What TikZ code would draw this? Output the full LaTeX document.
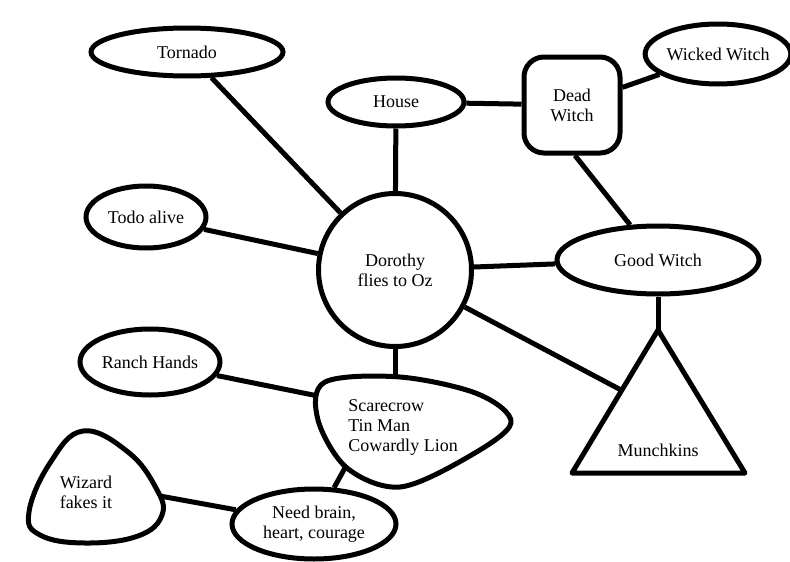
\documentclass[tikz,border=0pt]{standalone}
\usepackage{fontspec}
\setmainfont{Liberation Serif}
\newfontfamily\diagfont{Liberation Serif}
\usetikzlibrary{shapes.geometric}
\begin{document}
\begin{tikzpicture}[x=1pt,y=-1pt,
  every node/.style={font=\diagfont\fontsize{18}{20}\selectfont},
  shp/.style={draw,line width=5pt,inner sep=0pt},
  ell/.style={shp,ellipse},
  link/.style={line width=5pt},
  blob/.style={line width=5pt,line join=round}]
\useasboundingbox (0,0) rectangle (790,562);
\fill[white] (0,0) rectangle (790,562);
% nodes
\node[ell,minimum width=192pt,minimum height=48pt] (tor) at (187,52) {Tornado};
\node[ell,minimum width=136pt,minimum height=48pt] (house) at (396,102) {House};
\node[shp,rounded corners=20pt,minimum width=96pt,minimum height=96pt,align=center] (dead) at (572,105) {Dead\\Witch};
\node[ell,minimum width=138pt,minimum height=60pt] (wick) at (718,54) {Wicked Witch};
\node[ell,minimum width=202pt,minimum height=68pt] (good) at (658,260) {Good Witch};
\node[shp,circle,minimum size=153pt,align=center] (dor) at (395,270) {Dorothy\\flies to Oz};
\node[ell,minimum width=120pt,minimum height=62pt] (todo) at (146,217) {Todo alive};
\node[ell,minimum width=140pt,minimum height=66pt] (ranch) at (150,362) {Ranch Hands};
\node[ell,minimum width=164pt,minimum height=70pt,align=center] (need) at (314,524) {Need brain,\\heart, courage};
% scarecrow blob
\draw[blob] plot[smooth cycle,tension=0.55] coordinates {(325,382) (400,377) (478,394) (511,423) (468,457) (400,487) (347,468) (318,420)};
\node[align=left] (scare) at (403,427) {Scarecrow\\Tin Man\\Cowardly Lion};
\coordinate (scTop) at (395,378);
\coordinate (scLeft) at (318,396);
\coordinate (scBot) at (346,466);
% wizard blob
\draw[blob] plot[smooth cycle,tension=0.7] coordinates {(83,431) (128,452) (156,488) (162,515) (138,536) (85,543) (40,535) (29,512) (50,463)};
\node[align=left] (wiz) at (86,492) {Wizard\\fakes it};
\coordinate (wzRight) at (160,496);
% munchkins triangle
\coordinate (mApex) at (658,330);
\coordinate (mR) at (745,473);
\coordinate (mL) at (572,473);
\draw[blob] (mApex) -- (mR) -- (mL) -- cycle;
\node (munch) at (658,450) {Munchkins};
\coordinate (mSide) at (621,390);
% connectors
\draw[link] (tor) -- (dor);
\draw[link] (todo) -- (dor);
\draw[link] (house) -- (dor);
\draw[link] (house) -- (dead);
\draw[link] (dead) -- (wick);
\draw[link] (dead.south) ++(3,0) coordinate (dS) (dS) -- (good);
\draw[link] (dor) -- (good);
\draw[link] (good.south) -- (mApex);
\draw[link] (dor) -- (mSide);
\draw[link] (dor.south) -- (scTop);
\draw[link] (ranch) -- (scLeft);
\draw[link] (scBot) -- (need);
\draw[link] (wzRight) -- (need);
\end{tikzpicture}
\end{document}
